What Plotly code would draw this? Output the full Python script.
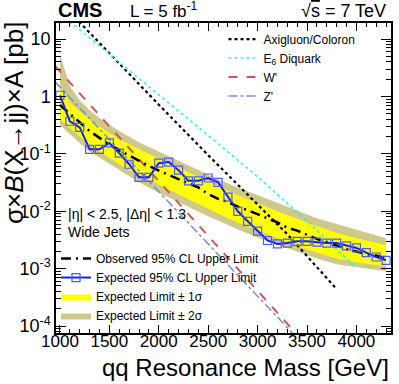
import plotly.graph_objects as go

# limits on the 100 GeV grid
mass = [1000, 1100, 1200, 1300, 1400, 1500, 1600, 1700, 1800, 1900, 2000, 2100,
        2200, 2300, 2400, 2500, 2600, 2700, 2800, 2900, 3000, 3100, 3200, 3300,
        3400, 3500, 3600, 3700, 3800, 3900, 4000, 4100, 4200, 4300]
limit_squares = [1.05, 0.37, 0.29, 0.12, 0.12, 0.155, 0.103, 0.066, 0.039, 0.039,
                 0.069, 0.072, 0.052, 0.034, 0.034, 0.038, 0.032, 0.0177, 0.010,
                 0.0067, 0.0045, 0.0031, 0.0027, 0.0028, 0.0030, 0.0030, 0.0029,
                 0.0028, 0.0028, 0.0025, 0.0023, 0.0019, 0.0016, 0.0014]
limit_dashed = [0.71, 0.50, 0.35, 0.25, 0.19, 0.145, 0.115, 0.093, 0.076, 0.062,
                0.051, 0.043, 0.037, 0.031, 0.026, 0.020, 0.0165, 0.0145, 0.012,
                0.0105, 0.0089, 0.0076, 0.0064, 0.0052, 0.0046, 0.0039, 0.0033,
                0.0029, 0.0025, 0.0022, 0.0020, 0.0018, 0.0017, 0.0015]

# bands
band_mass = [1000, 1100, 1200, 1300, 1400, 1500, 1600, 1800, 2000, 2200, 2400,
             2600, 2800, 3000, 3200, 3400, 3600, 3800, 4000, 4200, 4300]
sig1_hi = [1.6, 0.80, 0.55, 0.40, 0.30, 0.23, 0.18, 0.12, 0.082, 0.058, 0.040,
           0.027, 0.019, 0.0140, 0.0100, 0.0074, 0.0055, 0.0042, 0.0034, 0.0028, 0.0026]
sig1_lo = [0.40, 0.28, 0.20, 0.145, 0.11, 0.085, 0.066, 0.043, 0.029, 0.020, 0.0135,
           0.0092, 0.0064, 0.0046, 0.0034, 0.0025, 0.0019, 0.0015, 0.0013, 0.00115, 0.0011]
sig2_hi = [5.5, 1.5, 0.85, 0.58, 0.42, 0.32, 0.25, 0.16, 0.11, 0.077, 0.052,
           0.036, 0.026, 0.019, 0.0138, 0.0102, 0.0076, 0.0060, 0.0048, 0.0038, 0.0034]
sig2_lo = [0.32, 0.22, 0.155, 0.11, 0.085, 0.066, 0.052, 0.032, 0.021, 0.0145, 0.0098,
           0.0068, 0.0048, 0.0035, 0.0026, 0.0020, 0.0015, 0.0012, 0.00105, 0.00095, 0.0009]

# models
axi_mass = [1150, 1500, 2000, 2500, 3000, 3300, 3500, 3800]
axi_xs = [24.0, 5.6, 0.72, 0.095, 0.0131, 0.0040, 0.00166, 0.00044]
e6_mass = [1100, 1500, 2000, 2500, 3000, 3500, 4000]
e6_xs = [20.2, 5.5, 1.08, 0.21, 0.040, 0.0068, 0.00102]
wp_mass = [950, 1500, 2000, 2500, 3000, 3400]
wp_xs = [3.4, 0.30, 0.034, 0.0037, 0.00041, 0.000071]
zp_mass = [950, 1500, 2000, 2500, 3000, 3400]
zp_xs = [1.8, 0.18, 0.022, 0.0027, 0.00033, 0.000062]

FONT = "Liberation Sans, Arial, sans-serif"

fig = go.Figure()

fig.add_trace(go.Scatter(
    x=band_mass + band_mass[::-1], y=sig2_hi + sig2_lo[::-1],
    fill="toself", fillcolor="#cec98a", line=dict(width=0),
    mode="lines", name="Expected Limit ± 2σ", legend="legend2", legendrank=4))
fig.add_trace(go.Scatter(
    x=band_mass + band_mass[::-1], y=sig1_hi + sig1_lo[::-1],
    fill="toself", fillcolor="#ffff00", line=dict(width=0),
    mode="lines", name="Expected Limit ± 1σ", legend="legend2", legendrank=3))

fig.add_trace(go.Scatter(
    x=axi_mass, y=axi_xs, mode="lines", name="Axigluon/Coloron",
    line=dict(color="black", width=2.2, dash="dot"), legendrank=1))
fig.add_trace(go.Scatter(
    x=e6_mass, y=e6_xs, mode="lines", name="E<sub>6</sub> Diquark",
    line=dict(color="#33eeee", width=1.5, dash="dot"), legendrank=2))
fig.add_trace(go.Scatter(
    x=wp_mass, y=wp_xs, mode="lines", name="W'",
    line=dict(color="#c85a5a", width=2, dash="dash"), legendrank=3))
fig.add_trace(go.Scatter(
    x=zp_mass, y=zp_xs, mode="lines", name="Z'",
    line=dict(color="#6f90dd", width=1.5, dash="dashdot"), legendrank=4))

fig.add_trace(go.Scatter(
    x=mass, y=limit_dashed, mode="lines", name="Observed 95% CL Upper Limit",
    line=dict(color="black", width=2.5, dash="10px,5px,2px,5px"),
    legend="legend2", legendrank=1))
fig.add_trace(go.Scatter(
    x=mass, y=limit_squares, mode="lines+markers", name="Expected 95% CL Upper Limit",
    line=dict(color="#1a1aff", width=2),
    marker=dict(symbol="square-open", size=8, color="#4a5cff", line=dict(width=1.2)),
    legend="legend2", legendrank=2))

ytv = [1e-4, 1e-3, 1e-2, 1e-1, 1, 10]
ytt = ["10<sup>-4</sup>", "10<sup>-3</sup>", "10<sup>-2</sup>", "10<sup>-1</sup>", "1", "10"]

fig.update_xaxes(
    range=[960, 4350], tickvals=[1000, 1500, 2000, 2500, 3000, 3500, 4000],
    ticks="inside", ticklen=8, tickwidth=1, tickcolor="black",
    showline=True, linecolor="black", linewidth=1.5, mirror="allticks",
    showgrid=False, zeroline=False, automargin=False, ticklabelstandoff=-8,
    tickfont=dict(family=FONT, size=17, color="black"),
    minor=dict(dtick=100, ticks="inside", ticklen=4, tickcolor="black", showgrid=False))
fig.update_yaxes(
    type="log", range=[-4.12, 1.28], tickvals=ytv, ticktext=ytt,
    ticks="inside", ticklen=10, tickwidth=1, tickcolor="black",
    showline=True, linecolor="black", linewidth=1.5, mirror="allticks",
    showgrid=False, zeroline=False, automargin=False,
    tickfont=dict(family=FONT, size=18, color="black"),
    minor=dict(dtick="D1", ticks="inside", ticklen=5, tickcolor="black", showgrid=False))

fig.update_layout(
    width=399, height=384,
    margin=dict(l=56, r=8, t=23, b=51, autoexpand=False),
    plot_bgcolor="white", paper_bgcolor="white",
    font=dict(family=FONT, color="black"),
    legend=dict(x=0.5, y=0.995, xanchor="left", yanchor="top",
                bgcolor="rgba(0,0,0,0)", font=dict(size=12), tracegroupgap=0),
    legend2=dict(x=0.0, y=0.287, xanchor="left", yanchor="top",
                 bgcolor="rgba(0,0,0,0)", font=dict(size=12), tracegroupgap=0),
    annotations=[
        dict(text="<b>CMS</b>", x=0.0, y=1.0, xref="paper", yref="paper",
             xanchor="left", yanchor="bottom", showarrow=False, font=dict(size=20)),
        dict(text="L = 5 fb<sup>-1</sup>", x=0.215, y=1.0, xref="paper", yref="paper",
             xanchor="left", yanchor="bottom", showarrow=False, font=dict(size=17)),
        dict(text="√<span style='text-decoration:overline'>s</span> = 7 TeV",
             x=0.99, y=1.0, xref="paper", yref="paper",
             xanchor="right", yanchor="bottom", showarrow=False, font=dict(size=18)),
        dict(text="σ×<i>B</i>(X→jj)×A [pb]", x=-0.125, y=1.01, xref="paper", yref="paper",
             xanchor="center", yanchor="top", showarrow=False, textangle=-90,
             font=dict(size=26)),
        dict(text="qq Resonance Mass [GeV]", x=1.0, y=-0.11, xref="paper", yref="paper",
             xanchor="right", yanchor="middle", showarrow=False, font=dict(size=24)),
        dict(text="|η| < 2.5, |Δη| < 1.3<br>Wide Jets", x=0.03, y=0.416,
             xref="paper", yref="paper", xanchor="left", yanchor="top", align="left",
             showarrow=False, font=dict(size=14)),
    ],
)

# the page body has a default 8px margin; drop it so the figure fills the window
fig.write_html("out.html", config={"displayModeBar": False},
               post_script="document.body.style.margin='0';")
